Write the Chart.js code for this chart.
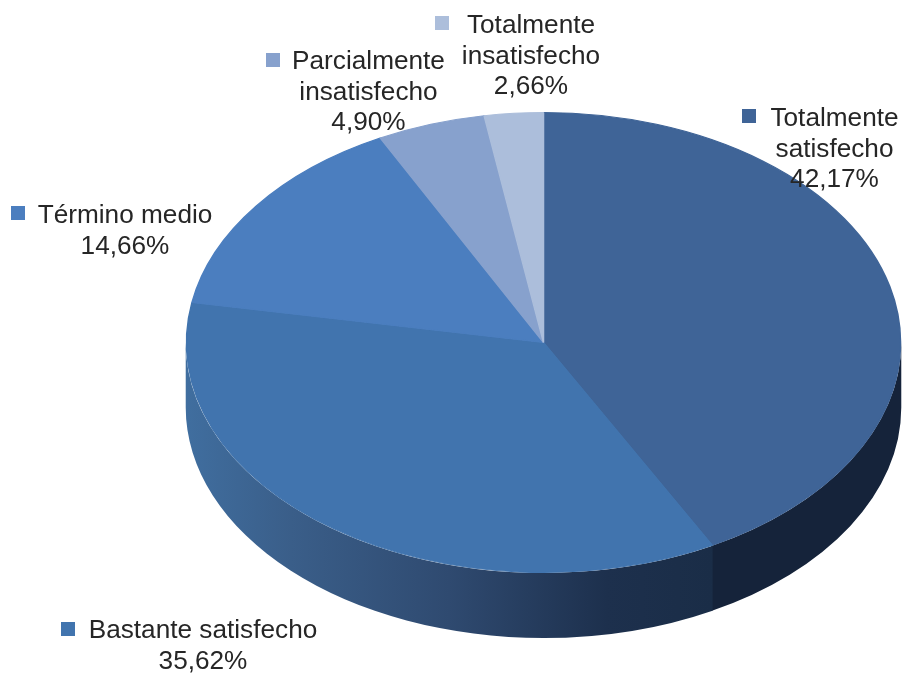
<!DOCTYPE html>
<html>
<head>
<meta charset="utf-8">
<title>Satisfacción</title>
<script src="https://cdn.jsdelivr.net/npm/chart.js@4"></script>
<style>
    html, body { margin: 0; padding: 0; background: #fff; }
    canvas { display: block; }
</style>
</head>
<body>
<canvas id="pieChart" width="904" height="673"></canvas>
<script>
var categories = [
    ['Totalmente', 'satisfecho'],
    ['Bastante satisfecho'],
    ['Término medio'],
    ['Parcialmente', 'insatisfecho'],
    ['Totalmente', 'insatisfecho']
];
var percentages = [42.17, 35.62, 14.66, 4.90, 2.66];
var sliceColors = ['#3f6497', '#4174ae', '#4b7ebf', '#87a1cd', '#acbedb'];

// where each label sits: text centre, first baseline, legend square
var labelBoxes = [
    { textX: 834.5, baseY: 126, squareX: 742, squareY: 109 },
    { textX: 203, baseY: 638, squareX: 61, squareY: 622 },
    { textX: 125, baseY: 223, squareX: 11, squareY: 206 },
    { textX: 368.5, baseY: 69, squareX: 266, squareY: 53 },
    { textX: 531, baseY: 33, squareX: 435, squareY: 16 }
];

// 3D look: flatten the pie into an ellipse and add a side wall
var pieRadius = 230;
var stretchX = 357 / pieRadius;
var wallDepth = 65;

function wallFill(ctx, index) {
    if (index !== 1) return '#15233a';
    var g = ctx.createLinearGradient(186, 0, 712, 0);
    g.addColorStop(0, '#406e9f');
    g.addColorStop(0.2, '#3a5e89');
    g.addColorStop(0.5, '#2f4a70');
    g.addColorStop(0.8, '#1d304d');
    g.addColorStop(1, '#1a2d47');
    return g;
}

var pie3d = {
    id: 'pie3d',
    beforeDatasetsDraw: function (chart) {
        var ctx = chart.ctx;
        var arcs = chart.getDatasetMeta(0).data;
        arcs.forEach(function (arc, i) {
            // only the front half of the rim is visible, small overlap hides the seam
            var from = Math.max(arc.startAngle, 0);
            var to = Math.min(arc.endAngle + 0.004, Math.PI);
            if (to <= from) return;
            var rx = (arc.outerRadius + 0.5) * stretchX;
            var ry = arc.outerRadius + 0.5;
            ctx.beginPath();
            ctx.ellipse(arc.x, arc.y, rx, ry, 0, from, to);
            ctx.ellipse(arc.x, arc.y + wallDepth, rx, ry, 0, to, from, true);
            ctx.closePath();
            ctx.fillStyle = wallFill(ctx, i);
            ctx.fill();
        });
        var c = arcs[0];
        ctx.save();
        ctx.translate(c.x, c.y);
        ctx.scale(stretchX, 1);
        ctx.translate(-c.x, -c.y);
    },
    afterDatasetsDraw: function (chart) {
        chart.ctx.restore();
    },
    afterDraw: function (chart) {
        var ctx = chart.ctx;
        ctx.save();
        ctx.font = '26.2px "Liberation Sans"';
        ctx.textAlign = 'center';
        ctx.textBaseline = 'alphabetic';
        categories.forEach(function (lines, i) {
            var box = labelBoxes[i];
            ctx.fillStyle = sliceColors[i];
            ctx.fillRect(box.squareX, box.squareY, 14, 14);
            ctx.fillStyle = '#262626';
            var text = lines.concat(percentages[i].toFixed(2).replace('.', ',') + '%');
            text.forEach(function (line, n) {
                ctx.fillText(line, box.textX, box.baseY + n * 30.7);
            });
        });
        ctx.restore();
    }
};

document.addEventListener('DOMContentLoaded', function () {
    var ctxPie = document.getElementById('pieChart').getContext('2d');
    new Chart(ctxPie, {
        type: 'pie',
        data: {
            labels: categories.map(function (c) { return c.join(' '); }),
            datasets: [{
                data: percentages,
                backgroundColor: sliceColors,
                borderColor: sliceColors,
                borderWidth: 1
            }]
        },
        options: {
            responsive: false,
            animation: false,
            radius: pieRadius,
            layout: { padding: { left: 183, top: 12, right: 0, bottom: 0 } },
            plugins: { legend: { display: false }, tooltip: { enabled: false } }
        },
        plugins: [pie3d]
    });
});
</script>
</body>
</html>
